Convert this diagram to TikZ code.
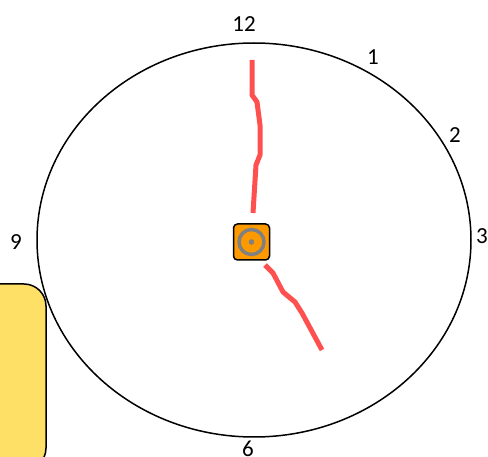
\documentclass[tikz,border=0pt]{standalone}
\usepackage{fontspec}
\usetikzlibrary{shapes.geometric}
\setmainfont{Carlito}
\definecolor{handred}{RGB}{255,80,80}
\definecolor{hubor}{RGB}{255,153,0}
\definecolor{hubgray}{RGB}{128,128,128}
\definecolor{boxyel}{RGB}{255,224,102}
\begin{document}
\begin{tikzpicture}[x=1pt,y=-1pt,
  lbl/.style={font=\fontsize{23}{23}\selectfont, inner sep=0pt},
  hand/.style={draw=handred, line width=5pt, line join=round},
  face/.style={draw=black, line width=1.5pt}]
\useasboundingbox (0,0) rectangle (488,457);
% yellow box
\path[draw=black, line width=1.5pt, fill=boxyel, rounded corners=22pt]
  (-30,284) rectangle (46,470);
% clock face
\node[face, ellipse, minimum width=434pt, minimum height=394pt, inner sep=0pt] (face) at (254,240) {};
% hands
\coordinate (m0) at (252,60);
\draw[hand] (m0) -- (252,95) -- (257,102) -- (260,125) -- (260,155) -- (256,165) -- (253,213);
\coordinate (h0) at (265,265);
\draw[hand] (h0) -- (273,273) -- (283,292) -- (295,302) -- (302,313) -- (322,350);
% center hub
\node[draw=black, line width=1.5pt, fill=hubor, rounded corners=4pt, minimum size=36pt, inner sep=0pt] (hub) at (251.5,242) {};
\draw[draw=hubgray, line width=3.5pt] (hub.center) circle (12.5pt);
\fill[hubgray] (hub.center) circle (2.8pt);
% labels
\node[lbl] (n12) at (244,24) {12};
\node[lbl] (n1) at (373,57) {1};
\node[lbl] (n2) at (455,135) {2};
\node[lbl] (n3) at (482,236) {3};
\node[lbl] (n9) at (16,242) {9};
\node[lbl] (n6) at (248,449) {6};
\end{tikzpicture}
\end{document}
